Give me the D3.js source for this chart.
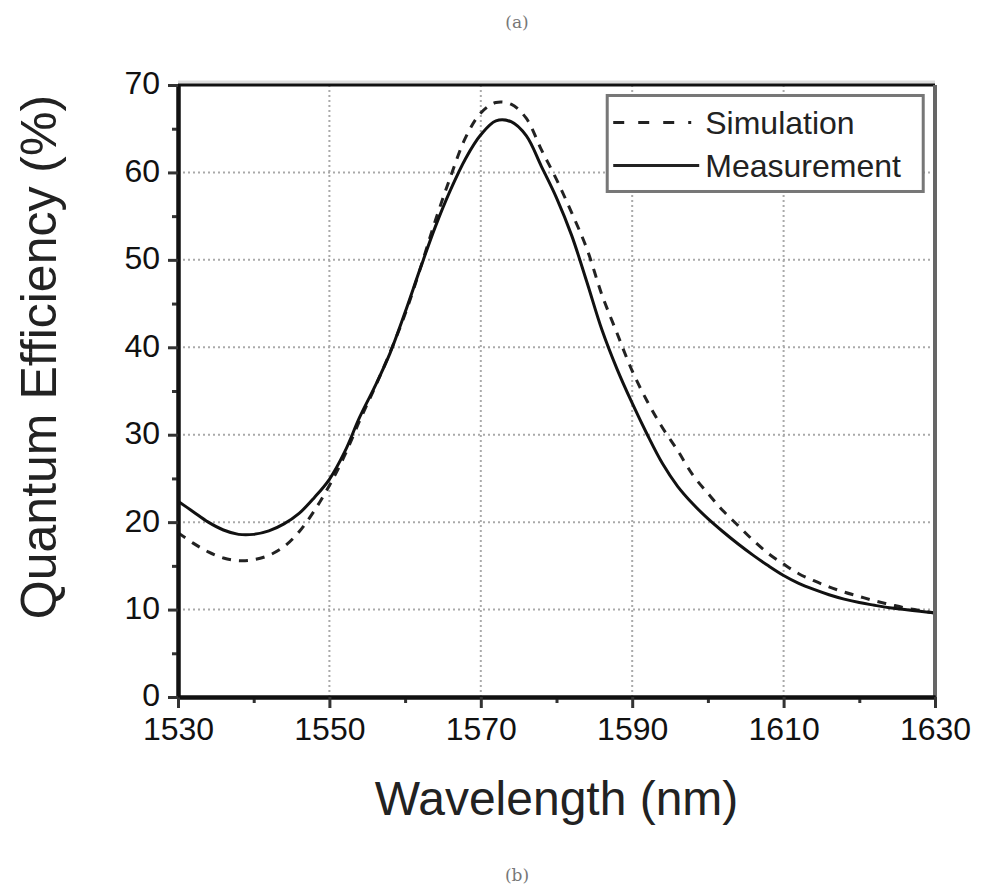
<!DOCTYPE html>
<html>
<head>
<meta charset="utf-8">
<style>
  body { margin: 0; background: #fff; }
  svg { display: block; font-family: "Liberation Sans", Arial, sans-serif; }
  .grid line { stroke: #aaa; stroke-width: 2; stroke-dasharray: 2,3; }
</style>
<title>Quantum Efficiency</title>
</head>
<body>
<script src="https://cdn.jsdelivr.net/npm/d3@7"></script>
<script>

// wavelength (nm)
var wavelength = [1530,1532,1534,1536,1538,1540,1542,1544,1546,1548,1550,1552,1554,1556,1558,
                  1560,1562,1564,1566,1568,1570,1572,1574,1576,1578,1580,1582,1584,1586,1588,
                  1590,1592,1594,1596,1598,1600,1602,1604,1606,1608,1610,1612,1614,1616,1618,
                  1620,1622,1624,1626,1628,1630];

// quantum efficiency (%)
var simulation  = [18.8,17.6,16.6,15.9,15.6,15.7,16.2,17.2,18.9,21.3,24.2,27.6,31.6,35.4,39.4,
                   43.8,49.0,54.5,59.5,64.0,66.8,68.0,67.8,66.2,62.6,59.2,55.4,51.3,46.0,41.6,
                   37.3,33.8,30.8,28.2,25.4,23.3,21.3,19.6,17.9,16.4,15.2,14.1,13.3,12.6,12.0,
                   11.5,11.0,10.6,10.2,9.9,9.6];
var measurement = [22.4,21.2,20.0,19.1,18.6,18.6,19.0,19.8,21.0,22.8,24.9,28.0,32.0,35.5,39.3,
                   44.0,49.0,53.8,58.0,61.6,64.3,65.9,65.8,64.2,60.7,57.1,52.8,47.5,42.0,37.5,
                   33.6,30.0,26.7,24.1,22.1,20.4,18.9,17.5,16.2,15.0,13.9,13.0,12.3,11.7,11.2,
                   10.8,10.5,10.2,10.0,9.8,9.6];

var xTicks = [1530,1550,1570,1590,1610,1630];
var yTicks = [0,10,20,30,40,50,60,70];
var seriesNames = ["Simulation","Measurement"];

var W = 987, H = 891;
var margin = {top: 85, right: 52, bottom: 194, left: 178},
    width = W - margin.left - margin.right,
    height = H - margin.top - margin.bottom;

var svg = d3.select('body').append('svg')
    .attr('width', W)
    .attr('height', H);

var g = svg.append('g')
    .attr('transform', `translate(${margin.left},${margin.top})`);

var x = d3.scaleLinear().domain([1530,1630]).range([0, width]);
var y = d3.scaleLinear().domain([0,70]).range([height, 0]);

// grid
var grid = g.append('g').attr('class','grid');
grid.selectAll('.gx').data(xTicks.slice(1,-1)).join('line')
    .attr('x1', d => x(d)).attr('x2', d => x(d))
    .attr('y1', 0).attr('y2', height);
grid.selectAll('.gy').data(yTicks.slice(1,-1)).join('line')
    .attr('x1', 0).attr('x2', width)
    .attr('y1', d => y(d)).attr('y2', d => y(d));

// curves
var line = d3.line()
    .x((d, i) => x(wavelength[i]))
    .y(d => y(d))
    .curve(d3.curveCatmullRom);

g.append('path').datum(simulation)
    .attr('d', line)
    .attr('fill','none').attr('stroke','#222')
    .attr('stroke-width',3).attr('stroke-dasharray','9,8');

g.append('path').datum(measurement)
    .attr('d', line)
    .attr('fill','none').attr('stroke','#111')
    .attr('stroke-width',3);

// frame: top black with light shadow, right grey
g.append('line').attr('x1',0).attr('x2',width).attr('y1',-3).attr('y2',-3)
    .attr('stroke','#ddd').attr('stroke-width',3);
g.append('line').attr('x1',0).attr('x2',width).attr('y1',0).attr('y2',0)
    .attr('stroke','#111').attr('stroke-width',3);
g.append('line').attr('x1',width).attr('x2',width).attr('y1',0).attr('y2',height)
    .attr('stroke','#666').attr('stroke-width',4);

// axes
var fmt = d3.format('d');
var xAxis = d3.axisBottom(x).tickValues(xTicks).tickFormat(fmt).tickSize(11).tickPadding(9).tickSizeOuter(0);
var xMinor = d3.axisBottom(x).tickValues(d3.range(1540,1630,20)).tickSize(6).tickFormat('').tickSizeOuter(0);
var yAxis = d3.axisLeft(y).tickValues(yTicks).tickFormat(fmt).tickSize(10).tickPadding(8).tickSizeOuter(0);
var yMinor = d3.axisLeft(y).tickValues(d3.range(5,70,10)).tickSize(6).tickFormat('').tickSizeOuter(0);

function styleAxis(sel) {
  sel.select('.domain').attr('stroke','#111').attr('stroke-width',4);
  sel.selectAll('.tick line').attr('stroke','#333').attr('stroke-width',3);
  sel.selectAll('text').attr('font-size',32).attr('fill','#111')
     .attr('font-family','"Liberation Sans", Arial, sans-serif');
}

g.append('g').attr('transform',`translate(0,${height})`).call(xMinor).call(styleAxis);
g.append('g').call(yMinor).call(styleAxis);
g.append('g').attr('transform',`translate(0,${height})`).call(xAxis).call(styleAxis);
g.append('g').call(yAxis).call(styleAxis)
  .selectAll('.tick text').attr('dy','0.28em');

// legend
var lg = g.append('g').attr('transform', `translate(${x(1586.7)},${y(68.8)})`);
lg.append('rect').attr('width',316).attr('height',96)
    .attr('fill','#fff').attr('stroke','#777').attr('stroke-width',3);
var rows = lg.selectAll('.row').data(seriesNames).join('g')
    .attr('transform', (d,i) => `translate(0,${27 + i*43})`);
rows.append('line').attr('x1',6).attr('x2',(d,i) => i ? 92 : 84)
    .attr('stroke','#222').attr('stroke-width',3)
    .attr('stroke-dasharray', (d,i) => i ? null : '11,14');
rows.append('text').text(d => d)
    .attr('x',98).attr('dy','0.36em')
    .attr('font-size',32).attr('fill','#222');

// axis titles
svg.append('text').text('Wavelength (nm)')
    .attr('x', margin.left + width/2).attr('y', 815)
    .attr('text-anchor','middle').attr('font-size',48).attr('fill','#222');

svg.append('text').text('Quantum Efficiency (%)')
    .attr('transform','translate(56,357) rotate(-90)')
    .attr('text-anchor','middle').attr('font-size',50).attr('fill','#222');

// panel captions
svg.append('text').text('(a)')
    .attr('x',517).attr('y',28).attr('text-anchor','middle')
    .attr('font-family','"DejaVu Serif", serif').attr('font-size',17).attr('fill','#777');
svg.append('text').text('(b)')
    .attr('x',517).attr('y',881).attr('text-anchor','middle')
    .attr('font-family','"DejaVu Serif", serif').attr('font-size',17).attr('fill','#777');

</script>
</body>
</html>
